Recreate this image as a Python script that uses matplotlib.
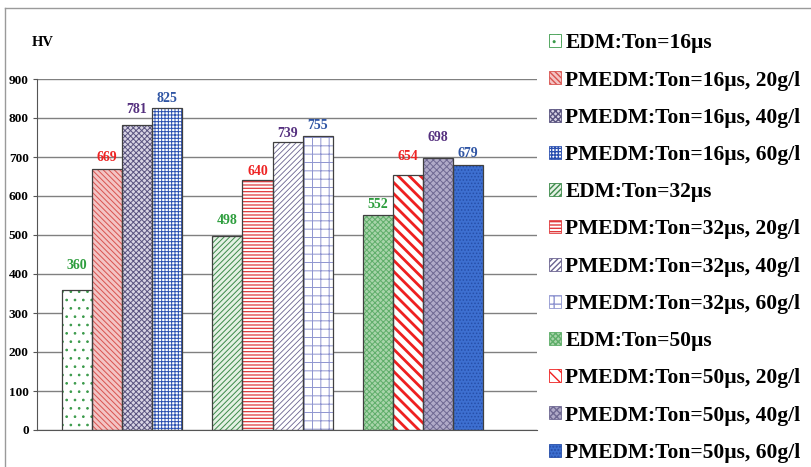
import matplotlib.pyplot as plt
from matplotlib.patches import Patch
from matplotlib.lines import Line2D

# Ton groups and the four conditions inside each group
groups = ["Ton=16µs", "Ton=32µs", "Ton=50µs"]
hv_edm = [360, 498, 552]
hv_20 = [669, 640, 654]
hv_40 = [781, 739, 698]
hv_60 = [825, 755, 679]

labels = [
    "EDM:Ton=16µs", "PMEDM:Ton=16µs, 20g/l", "PMEDM:Ton=16µs, 40g/l", "PMEDM:Ton=16µs, 60g/l",
    "EDM:Ton=32µs", "PMEDM:Ton=32µs, 20g/l", "PMEDM:Ton=32µs, 40g/l", "PMEDM:Ton=32µs, 60g/l",
    "EDM:Ton=50µs", "PMEDM:Ton=50µs, 20g/l", "PMEDM:Ton=50µs, 40g/l", "PMEDM:Ton=50µs, 60g/l",
]

# (face, hatch colour, hatch, hatch width) per bar, group by group
STYLES = [
    ("white", "#3a9a4a", "..", 0.7),
    ("#f3c4c4", "#d9534f", "\\\\\\\\\\\\", 0.7),
    ("#d8d4e4", "#5a5480", "xxxxxx", 0.7),
    ("white", "#2a4fb0", "+++++", 0.7),
    ("#e4f1e4", "#3c8a4a", "//////", 0.7),
    ("white", "#e0393b", "-----", 0.9),
    ("white", "#6a6390", "//////", 0.6),
    ("white", "#8f95d0", "++", 0.7),
    ("#a8d4aa", "#5fae6a", "xxxxxx", 0.7),
    ("white", "#ee2020", "\\\\\\", 2.0),
    ("#b0aac8", "#6e6892", "xxxxx", 0.7),
    ("#3d6fd0", "#264ea8", ".....", 0.7),
]
LABEL_COLORS = ["#2e9e3e", "#ee2424", "#55307f", "#2f55a4"]
# gap between bar top and its value label, points
LABEL_GAP = [12.5, 4, 7, 2.5, 6, 1.5, 1.5, 2.5, 2.5, 8.5, 10, 3.5]

SERIF = "Liberation Serif"

fig = plt.figure(figsize=(8.11, 4.67), dpi=100)
ax = fig.add_axes([37 / 811, 1 - 430 / 467, 500 / 811, 351 / 467])

# outer chart frame
fig.add_artist(Line2D([5 / 811, 1.0], [1 - 8 / 467] * 2, color="#9a9a9a", lw=1))
fig.add_artist(Line2D([5 / 811] * 2, [0, 1 - 8 / 467], color="#9a9a9a", lw=1))

width = 0.2
offsets = [-1.5 * width, -0.5 * width, 0.5 * width, 1.5 * width]
series = [hv_edm, hv_20, hv_40, hv_60]

for gi in range(len(groups)):
    for si, vals in enumerate(series):
        k = gi * 4 + si
        face, hcol, hatch, hlw = STYLES[k]
        x = gi + offsets[si]
        v = vals[gi]
        with plt.rc_context({"hatch.linewidth": hlw}):
            ax.bar(x, v, width, color=face, edgecolor=hcol, hatch=hatch, linewidth=0, zorder=2)
        ax.bar(x, v, width, fill=False, edgecolor="#404040", linewidth=0.9, zorder=3)
        ax.annotate(str(v), (x, v), xytext=(0, LABEL_GAP[k]), textcoords="offset points",
                    ha="center", va="bottom", fontsize=10, fontweight="bold",
                    family=SERIF, color=LABEL_COLORS[si], zorder=4)

ax.set_xlim(-0.565, 2.757)
ax.set_ylim(0, 900)
ax.set_yticks(range(0, 901, 100))
ax.set_xticks([])
ax.yaxis.grid(True, color="#808080", linewidth=1)
ax.set_axisbelow(True)
for lab in ax.get_yticklabels():
    lab.set_fontfamily(SERIF)
    lab.set_fontweight("bold")
    lab.set_fontsize(9.5)
ax.tick_params(axis="y", length=3, color="#555555", pad=3)
for side in ("top", "right"):
    ax.spines[side].set_visible(False)
ax.spines["left"].set_color("#555555")
ax.spines["bottom"].set_color("#555555")

fig.text(32 / 811, 1 - 43 / 467, "HV", family=SERIF, fontweight="bold", fontsize=10.5,
         va="center", ha="left")

handles = []
for (face, hcol, hatch, hlw), lab in zip(STYLES, labels):
    with plt.rc_context({"hatch.linewidth": min(hlw, 1.0)}):
        handles.append(Patch(facecolor=face, edgecolor=hcol, hatch=hatch, linewidth=0.6, label=lab))

fig.legend(handles=handles, loc="upper left", bbox_to_anchor=(545 / 811, 1 - 29 / 467),
           frameon=True, facecolor="white", edgecolor="white", framealpha=1,
           prop={"family": SERIF, "weight": "bold", "size": 15.5},
           handlelength=0.55, handleheight=0.55, handletextpad=0.2,
           labelspacing=0.8, borderpad=0.2, borderaxespad=0)

fig.savefig("out.png", dpi=100)
